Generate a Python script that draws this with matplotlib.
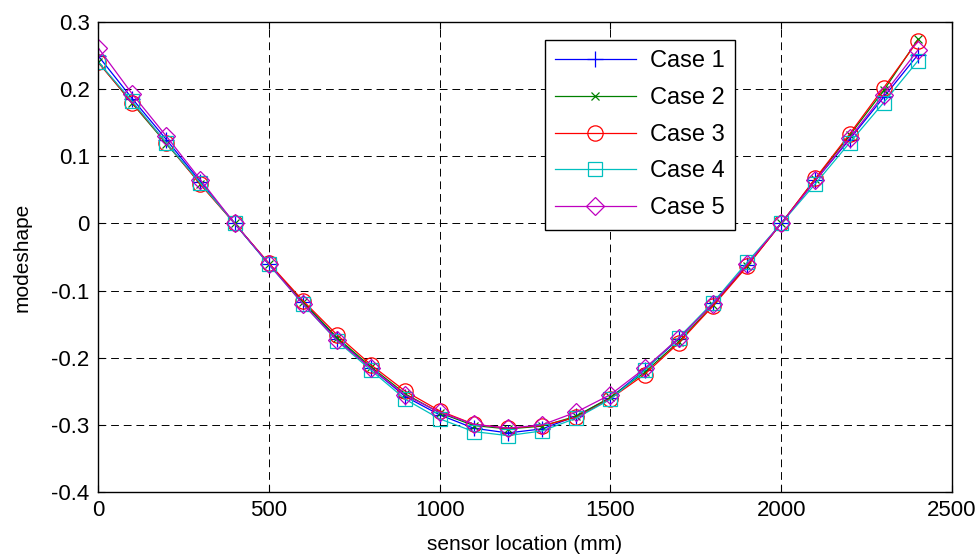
import matplotlib
matplotlib.use("Agg")
import matplotlib.pyplot as plt

plt.rcParams['font.family'] = ['Liberation Sans', 'DejaVu Sans']

# sensor locations (mm)
x = [0, 100, 200, 300, 400, 500, 600, 700, 800, 900, 1000, 1100, 1200,
     1300, 1400, 1500, 1600, 1700, 1800, 1900, 2000, 2100, 2200, 2300, 2400]

case1 = [0.250, 0.186, 0.125, 0.062, 0.0, -0.061, -0.117, -0.172, -0.216, -0.258, -0.285, -0.305, -0.312,
         -0.306, -0.287, -0.260, -0.218, -0.172, -0.119, -0.062, 0.0, 0.064, 0.125, 0.188, 0.251]
case2 = [0.241, 0.179, 0.119, 0.059, 0.0, -0.060, -0.117, -0.170, -0.214, -0.254, -0.282, -0.301, -0.306,
         -0.302, -0.287, -0.259, -0.222, -0.176, -0.122, -0.063, 0.0, 0.066, 0.131, 0.198, 0.274]
case3 = [0.240, 0.180, 0.120, 0.058, 0.0, -0.059, -0.115, -0.166, -0.211, -0.250, -0.279, -0.299, -0.305,
         -0.301, -0.289, -0.261, -0.225, -0.178, -0.123, -0.064, 0.0, 0.067, 0.133, 0.202, 0.272]
case4 = [0.241, 0.182, 0.120, 0.060, 0.0, -0.061, -0.120, -0.175, -0.219, -0.262, -0.291, -0.310, -0.316,
         -0.309, -0.290, -0.262, -0.219, -0.170, -0.118, -0.058, 0.0, 0.059, 0.120, 0.180, 0.242]
case5 = [0.262, 0.193, 0.130, 0.065, 0.0, -0.060, -0.120, -0.174, -0.216, -0.256, -0.281, -0.299, -0.305,
         -0.300, -0.281, -0.255, -0.216, -0.171, -0.120, -0.061, 0.0, 0.064, 0.127, 0.192, 0.258]

cases = [case1, case2, case3, case4, case5]
labels = ["Case 1", "Case 2", "Case 3", "Case 4", "Case 5"]
colors = [(0, 0, 1), (0, 0.5, 0), (1, 0, 0), (0, 0.75, 0.75), (0.75, 0, 0.75)]
markers = ['+', 'x', 'o', 's', 'D']
msizes = [12, 6, 11, 10, 9]

fig = plt.figure(figsize=(9.76, 5.6), dpi=100)
ax = fig.add_axes([0.1004, 0.1214, 0.875, 0.8393])

for y, lab, c, m, ms in zip(cases, labels, colors, markers, msizes):
    ax.plot(x, y, color=c, marker=m, markersize=ms, markerfacecolor='none',
            markeredgecolor=c, markeredgewidth=0.9, linewidth=0.9, label=lab)

ax.set_xlim(0, 2500)
ax.set_ylim(-0.4, 0.3)
ax.set_xticks([0, 500, 1000, 1500, 2000, 2500])
ax.set_yticks([-0.4, -0.3, -0.2, -0.1, 0, 0.1, 0.2, 0.3])
ax.set_yticklabels(['-0.4', '-0.3', '-0.2', '-0.1', '0', '0.1', '0.2', '0.3'])
ax.grid(True, color='black', linestyle=(0, (8, 5)), linewidth=0.7)
ax.tick_params(direction='in', top=True, right=True, labelsize=16, length=5, pad=6)
for s in ax.spines.values():
    s.set_linewidth(1.0)

ax.set_xlabel("sensor location (mm)", fontsize=15, labelpad=10)
ax.set_ylabel("modeshape", fontsize=15, labelpad=14)

leg = ax.legend(loc='upper left', bbox_to_anchor=(0.523, 0.962), borderaxespad=0,
                fontsize=17, fancybox=False, edgecolor='black', framealpha=1,
                handlelength=3.4, borderpad=0.45, labelspacing=0.62, handletextpad=0.6)
leg.get_frame().set_linewidth(1.0)

fig.savefig("out.png", dpi=100)
